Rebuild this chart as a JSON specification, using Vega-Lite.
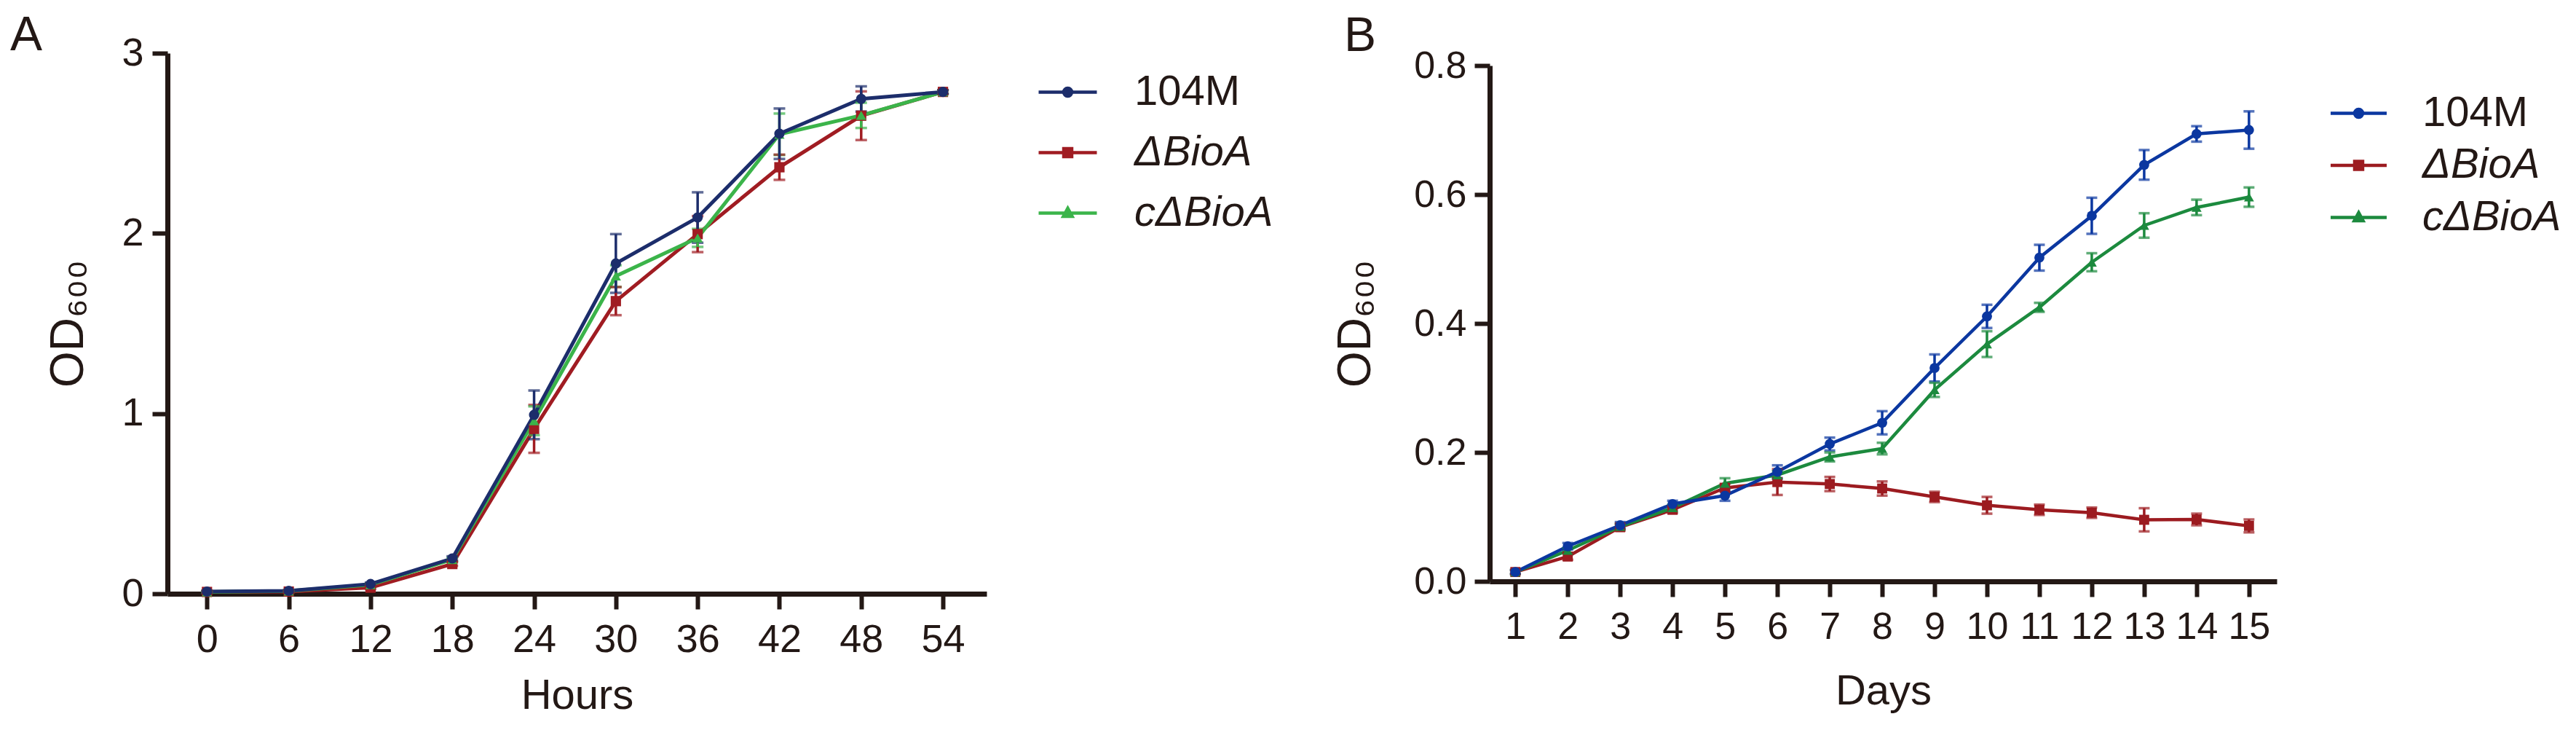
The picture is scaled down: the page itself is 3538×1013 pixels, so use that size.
{
  "$schema": "https://vega.github.io/schema/vega-lite/v6.json",
  "autosize": "none",
  "padding": {"left": 230, "top": 73, "right": 3308, "bottom": 940},
  "background": "white",
  "spacing": 691,
  "bounds": "flush",
  "align": "each",
  "center": true,
  "config": {
    "view": {"stroke": null},
    "font": "Liberation Sans",
    "axis": {
      "domainColor": "#231815", "domainWidth": 7,
      "tickColor": "#231815", "tickWidth": 6, "tickSize": 21,
      "labelFont": "Liberation Sans", "labelColor": "#231815",
      "titleFont": "Liberation Sans", "titleColor": "#231815", "titleFontWeight": "normal",
      "grid": false
    }
  },
  "resolve": {"scale": {"color": "independent"}, "legend": {"color": "independent"}},
  "datasets": {
    "hours": [
      {"t": 0, "s": "ΔBioA", "od": 0.01, "err": 0.005},
      {"t": 6, "s": "ΔBioA", "od": 0.012, "err": 0.005},
      {"t": 12, "s": "ΔBioA", "od": 0.034, "err": 0.008},
      {"t": 18, "s": "ΔBioA", "od": 0.165, "err": 0.01},
      {"t": 24, "s": "ΔBioA", "od": 0.915, "err": 0.133},
      {"t": 30, "s": "ΔBioA", "od": 1.624, "err": 0.078},
      {"t": 36, "s": "ΔBioA", "od": 1.996, "err": 0.1},
      {"t": 42, "s": "ΔBioA", "od": 2.367, "err": 0.07},
      {"t": 48, "s": "ΔBioA", "od": 2.653, "err": 0.135},
      {"t": 54, "s": "ΔBioA", "od": 2.785, "err": 0.01},
      {"t": 0, "s": "cΔBioA", "od": 0.01, "err": 0.005},
      {"t": 6, "s": "cΔBioA", "od": 0.015, "err": 0.005},
      {"t": 12, "s": "cΔBioA", "od": 0.05, "err": 0.008},
      {"t": 18, "s": "cΔBioA", "od": 0.19, "err": 0.01},
      {"t": 24, "s": "cΔBioA", "od": 0.96, "err": 0.08},
      {"t": 30, "s": "cΔBioA", "od": 1.763, "err": 0.06},
      {"t": 36, "s": "cΔBioA", "od": 1.975, "err": 0.05},
      {"t": 42, "s": "cΔBioA", "od": 2.55, "err": 0.115},
      {"t": 48, "s": "cΔBioA", "od": 2.655, "err": 0.07},
      {"t": 54, "s": "cΔBioA", "od": 2.785, "err": 0.01},
      {"t": 0, "s": "104M", "od": 0.012, "err": 0.005},
      {"t": 6, "s": "104M", "od": 0.016, "err": 0.005},
      {"t": 12, "s": "104M", "od": 0.054, "err": 0.008},
      {"t": 18, "s": "104M", "od": 0.196, "err": 0.012},
      {"t": 24, "s": "104M", "od": 0.993, "err": 0.135},
      {"t": 30, "s": "104M", "od": 1.833, "err": 0.163},
      {"t": 36, "s": "104M", "od": 2.088, "err": 0.14},
      {"t": 42, "s": "104M", "od": 2.553, "err": 0.14},
      {"t": 48, "s": "104M", "od": 2.746, "err": 0.07},
      {"t": 54, "s": "104M", "od": 2.785, "err": 0.01}
    ],
    "days": [
      {"d": 1, "s": "ΔBioA", "od": 0.0145, "err": 0.003},
      {"d": 2, "s": "ΔBioA", "od": 0.0385, "err": 0.005},
      {"d": 3, "s": "ΔBioA", "od": 0.084, "err": 0.005},
      {"d": 4, "s": "ΔBioA", "od": 0.111, "err": 0.005},
      {"d": 5, "s": "ΔBioA", "od": 0.145, "err": 0.006},
      {"d": 6, "s": "ΔBioA", "od": 0.154, "err": 0.02},
      {"d": 7, "s": "ΔBioA", "od": 0.151, "err": 0.011},
      {"d": 8, "s": "ΔBioA", "od": 0.144, "err": 0.011},
      {"d": 9, "s": "ΔBioA", "od": 0.131, "err": 0.008},
      {"d": 10, "s": "ΔBioA", "od": 0.118, "err": 0.013},
      {"d": 11, "s": "ΔBioA", "od": 0.111, "err": 0.008},
      {"d": 12, "s": "ΔBioA", "od": 0.1065, "err": 0.008},
      {"d": 13, "s": "ΔBioA", "od": 0.0955, "err": 0.018},
      {"d": 14, "s": "ΔBioA", "od": 0.096, "err": 0.009},
      {"d": 15, "s": "ΔBioA", "od": 0.086, "err": 0.01},
      {"d": 1, "s": "cΔBioA", "od": 0.0145, "err": 0.003},
      {"d": 2, "s": "cΔBioA", "od": 0.048, "err": 0.004},
      {"d": 3, "s": "cΔBioA", "od": 0.085, "err": 0.004},
      {"d": 4, "s": "cΔBioA", "od": 0.114, "err": 0.005},
      {"d": 5, "s": "cΔBioA", "od": 0.152, "err": 0.008},
      {"d": 6, "s": "cΔBioA", "od": 0.165, "err": 0.006},
      {"d": 7, "s": "cΔBioA", "od": 0.193, "err": 0.007},
      {"d": 8, "s": "cΔBioA", "od": 0.206, "err": 0.009},
      {"d": 9, "s": "cΔBioA", "od": 0.297, "err": 0.011},
      {"d": 10, "s": "cΔBioA", "od": 0.368, "err": 0.02},
      {"d": 11, "s": "cΔBioA", "od": 0.425, "err": 0.007},
      {"d": 12, "s": "cΔBioA", "od": 0.495, "err": 0.014},
      {"d": 13, "s": "cΔBioA", "od": 0.552, "err": 0.019},
      {"d": 14, "s": "cΔBioA", "od": 0.58, "err": 0.012},
      {"d": 15, "s": "cΔBioA", "od": 0.596, "err": 0.015},
      {"d": 1, "s": "104M", "od": 0.0145, "err": 0.003},
      {"d": 2, "s": "104M", "od": 0.0545, "err": 0.005},
      {"d": 3, "s": "104M", "od": 0.087, "err": 0.005},
      {"d": 4, "s": "104M", "od": 0.12, "err": 0.005},
      {"d": 5, "s": "104M", "od": 0.133, "err": 0.008},
      {"d": 6, "s": "104M", "od": 0.17, "err": 0.01},
      {"d": 7, "s": "104M", "od": 0.213, "err": 0.01},
      {"d": 8, "s": "104M", "od": 0.246, "err": 0.018},
      {"d": 9, "s": "104M", "od": 0.331, "err": 0.021},
      {"d": 10, "s": "104M", "od": 0.411, "err": 0.018},
      {"d": 11, "s": "104M", "od": 0.502, "err": 0.02},
      {"d": 12, "s": "104M", "od": 0.567, "err": 0.028},
      {"d": 13, "s": "104M", "od": 0.646, "err": 0.023},
      {"d": 14, "s": "104M", "od": 0.694, "err": 0.012},
      {"d": 15, "s": "104M", "od": 0.7, "err": 0.029}
    ]
  },
  "hconcat": [
    {
      "width": 1125,
      "height": 742,
      "data": {"name": "hours"},
      "title": {"text": "A", "anchor": "start", "frame": "group", "fontSize": 66, "fontWeight": "normal", "font": "Liberation Sans", "color": "#231815", "dx": -216, "offset": 0, "baseline": "alphabetic", "dy": 89},
      "encoding": {
        "x": {"field": "t", "type": "quantitative", "scale": {"domain": [-2.9, 57.2], "nice": false, "zero": false},
              "axis": {"values": [0, 6, 12, 18, 24, 30, 36, 42, 48, 54], "title": "Hours", "labelFontSize": 54, "titleFontSize": 58, "labelPadding": 15, "titlePadding": 21}},
        "y": {"field": "od", "type": "quantitative", "scale": {"domain": [0, 3], "nice": false},
              "axis": {"values": [0, 1, 2, 3], "title": "OD₆₀₀", "labelFontSize": 54, "titleFontSize": 64, "labelPadding": 12, "titlePadding": 40}},
        "color": {"field": "s", "type": "nominal",
                  "scale": {"domain": ["104M", "ΔBioA", "cΔBioA"], "range": ["#1c2d6b", "#a01c22", "#3bb44a"]},
                  "legend": {
                    "orient": "none", "legendX": 1204, "legendY": 21, "title": null, "padding": 0,
                    "symbolSize": 3600, "rowPadding": 21, "labelOffset": 59, "symbolStrokeWidth": 4.5, "symbolOpacity": 1,
                    "symbolType": {"expr": "datum.label == '104M' ? 'M-1.333,0H1.333M0.183,0A0.183,0.183,0,1,1,-0.183,0A0.183,0.183,0,1,1,0.183,0Z' : datum.label == 'ΔBioA' ? 'M-1.333,0H1.333M-0.183,-0.183H0.183V0.183H-0.183Z' : 'M-1.333,0H1.333M0,-0.22L0.2,0.15H-0.2Z'"},
                    "labelFontStyle": {"expr": "datum.label == '104M' ? 'normal' : 'italic'"},
                    "labelFontSize": 58, "labelFont": "Liberation Sans", "labelColor": "#231815", "labelLimit": 0
                  }}
      },
      "layer": [
        {"mark": {"type": "line", "strokeWidth": 5}},
        {"mark": {"type": "errorbar", "ticks": true, "size": 16, "thickness": 3.5}, "encoding": {"yError": {"field": "err"}}},
        {"transform": [{"filter": "datum.s == 'ΔBioA'"}], "mark": {"type": "point", "filled": true, "size": 200, "opacity": 1, "shape": "square"}},
        {"transform": [{"filter": "datum.s == 'cΔBioA'"}], "mark": {"type": "point", "filled": true, "size": 200, "opacity": 1, "shape": "triangle-up"}},
        {"transform": [{"filter": "datum.s == '104M'"}], "mark": {"type": "point", "filled": true, "size": 200, "opacity": 1, "shape": "circle"}}
      ]
    },
    {
      "width": 1081,
      "height": 708,
      "data": {"name": "days"},
      "title": {"text": "B", "anchor": "start", "frame": "group", "fontSize": 66, "fontWeight": "normal", "font": "Liberation Sans", "color": "#231815", "dx": -200, "offset": 0, "baseline": "alphabetic", "dy": 72},
      "encoding": {
        "x": {"field": "d", "type": "quantitative", "scale": {"domain": [0.51, 15.53], "nice": false, "zero": false},
              "axis": {"values": [1, 2, 3, 4, 5, 6, 7, 8, 9, 10, 11, 12, 13, 14, 15], "title": "Days", "labelFontSize": 52, "titleFontSize": 58, "labelPadding": 16, "titlePadding": 34}},
        "y": {"field": "od", "type": "quantitative", "scale": {"domain": [0, 0.8], "nice": false},
              "axis": {"values": [0, 0.2, 0.4, 0.6, 0.8], "format": ".1f", "title": "OD₆₀₀", "labelFontSize": 52, "titleFontSize": 64, "labelPadding": 11, "titlePadding": 47}},
        "color": {"field": "s", "type": "nominal",
                  "scale": {"domain": ["104M", "ΔBioA", "cΔBioA"], "range": ["#0b37a0", "#9c1b20", "#1c8a3e"]},
                  "legend": {
                    "orient": "none", "legendX": 1161, "legendY": 33, "title": null, "padding": 0,
                    "symbolSize": 3600, "rowPadding": 9.5, "labelOffset": 55, "symbolStrokeWidth": 4.5, "symbolOpacity": 1,
                    "symbolType": {"expr": "datum.label == '104M' ? 'M-1.283,0H1.283M0.183,0A0.183,0.183,0,1,1,-0.183,0A0.183,0.183,0,1,1,0.183,0Z' : datum.label == 'ΔBioA' ? 'M-1.283,0H1.283M-0.183,-0.183H0.183V0.183H-0.183Z' : 'M-1.283,0H1.283M0,-0.22L0.2,0.15H-0.2Z'"},
                    "labelFontStyle": {"expr": "datum.label == '104M' ? 'normal' : 'italic'"},
                    "labelFontSize": 58, "labelFont": "Liberation Sans", "labelColor": "#231815", "labelLimit": 0
                  }}
      },
      "layer": [
        {"mark": {"type": "line", "strokeWidth": 4.5}},
        {"mark": {"type": "errorbar", "ticks": true, "size": 15, "thickness": 3.5}, "encoding": {"yError": {"field": "err"}}},
        {"transform": [{"filter": "datum.s == 'ΔBioA'"}], "mark": {"type": "point", "filled": true, "size": 190, "opacity": 1, "shape": "square"}},
        {"transform": [{"filter": "datum.s == 'cΔBioA'"}], "mark": {"type": "point", "filled": true, "size": 190, "opacity": 1, "shape": "triangle-up"}},
        {"transform": [{"filter": "datum.s == '104M'"}], "mark": {"type": "point", "filled": true, "size": 190, "opacity": 1, "shape": "circle"}}
      ]
    }
  ]
}
